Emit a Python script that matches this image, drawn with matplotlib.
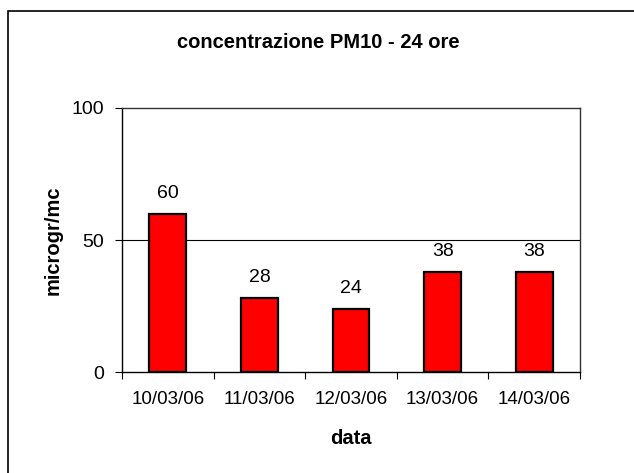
import matplotlib.pyplot as plt
import numpy as np
from matplotlib.patches import Rectangle

# --- data ---
dates = ["10/03/06", "11/03/06", "12/03/06", "13/03/06", "14/03/06"]
pm10 = [60, 28, 24, 38, 38]

plt.rcParams['font.family'] = ['Liberation Sans', 'DejaVu Sans']

W, H = 634, 473
fig = plt.figure(figsize=(W / 100, H / 100), dpi=100)

# outer chart border (cropped on right/bottom like the original)
fig.patches.append(Rectangle((8 / W, -0.1), 1.2, 1 - 11 / H + 0.1,
                             transform=fig.transFigure, fill=False,
                             edgecolor="black", linewidth=1.2))

ax = fig.add_axes([122 / W, 1 - 372 / H, (580 - 122) / W, (372 - 108) / H])

x = np.arange(len(dates))
ax.bar(x, pm10, width=0.4, color="#ff0000", edgecolor="black", linewidth=1.6, zorder=3)
for xi, v in zip(x, pm10):
    ax.text(xi, v + 6, f"{v}", ha="center", va="baseline", fontsize=14)

ax.set_xlim(-0.5, len(dates) - 0.5)
ax.set_ylim(0, 100)
ax.set_yticks([0, 50, 100])
ax.axhline(50, color="black", linewidth=0.8, zorder=1)

# ticks between categories, labels centred under bars
ax.set_xticks(np.arange(-0.5, len(dates), 1.0))
ax.set_xticklabels([])
ax.set_xticks(x, minor=True)
ax.set_xticklabels(dates, minor=True, fontsize=13.5)
ax.tick_params(axis="x", which="minor", length=0, pad=14)
ax.tick_params(axis="x", which="major", length=5, direction="out")
ax.tick_params(axis="y", length=5, direction="out", labelsize=14, pad=8)

for s in ["left", "bottom"]:
    ax.spines[s].set_linewidth(1.0)
for s in ["top", "right"]:
    ax.spines[s].set_color("#333333")
    ax.spines[s].set_linewidth(1.0)

fig.text(351 / W, 1 - 438 / H, "data", ha="center", va="center",
         fontsize=14.5, fontweight="bold")
fig.text(53 / W, 1 - 240 / H, "microgr/mc", ha="center", va="center",
         rotation=90, fontsize=14.5, fontweight="bold")
fig.text(177 / W, 1 - 42 / H, "concentrazione PM10 - 24 ore",
         ha="left", va="center", fontsize=14.5, fontweight="bold")

fig.savefig("out.png", dpi=100)
